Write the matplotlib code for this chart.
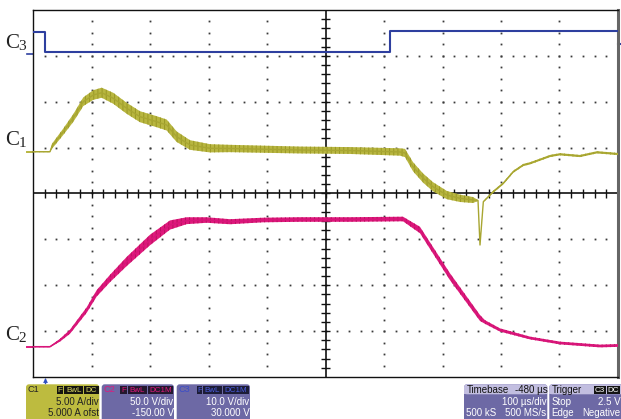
import numpy as np
import matplotlib
matplotlib.use('Agg')
import matplotlib.pyplot as plt
from matplotlib.patches import FancyBboxPatch, Rectangle

# ---------------- data (time in µs after trigger, amplitude in screen divisions) -------------
c3_t = [-20.5, 0, 0, 590, 590, 979.5]
c3_v = [3.53, 3.53, 3.08, 3.08, 3.54, 3.54]

c1_t = [-20.5, 8.5, 12, 31.3, 48.4, 65.5, 82.6, 96.9, 116.8, 139.7, 162.4, 190.9, 208.0,
        225.1, 247.9, 282.1, 316.2, 435.9, 521.4, 606.8, 615.4, 629.1, 646.2, 663.2, 686.7,
        709.4, 731.6, 740.2, 743.6, 749.3, 755.1, 766.3, 783.4, 800.5, 817.6, 829.1, 863.3,
        880.3, 914.5, 943.6, 979.5]
c1_v = [0.911, 0.911, 1.03, 1.347, 1.646, 2.001, 2.147, 2.197, 2.075, 1.857, 1.674, 1.565,
        1.493, 1.238, 1.057, 0.985, 0.981, 0.948, 0.937, 0.905, 0.883, 0.584, 0.338, 0.148,
        -0.033, -0.105, -0.142, -0.153, -1.123, -0.179, -0.105, 0.039, 0.222, 0.475, 0.621,
        0.658, 0.817, 0.855, 0.817, 0.898, 0.861]
c1_ripple = [0.011, 0.011, 0.055, 0.07, 0.085, 0.095, 0.105, 0.11, 0.12, 0.12, 0.12,
             0.12, 0.12, 0.115, 0.105, 0.09, 0.08, 0.075, 0.075, 0.08, 0.09, 0.1,
             0.1, 0.1, 0.09, 0.08, 0.065, 0.011, 0.007, 0.011, 0.017, 0.024, 0.024,
             0.024, 0.024, 0.024, 0.024, 0.024, 0.024, 0.024, 0.024]

c2_t = [-20.5, 8.5, 25.6, 42.7, 71.3, 88.4, 111.1, 139.7, 179.5, 213.7, 242.2, 276.4, 316.2,
        372.6, 435.9, 521.4, 612.0, 641.0, 692.3, 743.6, 752.1, 777.8, 829.1, 880.3, 948.7, 979.5]
c2_v = [-3.34, -3.34, -3.198, -3.013, -2.540, -2.176, -1.853, -1.482, -1.014, -0.687, -0.593,
        -0.578, -0.615, -0.578, -0.567, -0.567, -0.556, -0.796, -1.814, -2.714, -2.801,
        -2.975, -3.150, -3.259, -3.324, -3.313]
c2_ripple = [0.011, 0.011, 0.03, 0.045, 0.06, 0.07, 0.08, 0.1, 0.115, 0.1, 0.075, 0.06, 0.055,
             0.05, 0.05, 0.05, 0.05, 0.07, 0.075, 0.065, 0.04, 0.035, 0.03, 0.03, 0.03, 0.03]

channel_labels = [('C', '3', 48), ('C', '1', 145), ('C', '2', 340)]

ch_panels = [
    dict(name='C1', boxes=['F', 'BwL', 'DC'], l1='5.00 A/div', l2='5.000 A ofst'),
    dict(name='C2', boxes=['F', 'BwL', 'DC1M'], l1='50.0 V/div', l2='-150.00 V'),
    dict(name='C3', boxes=['F', 'BwL', 'DC1M'], l1='10.0 V/div', l2='30.000 V'),
]
timebase = dict(title='Timebase', delay='-480 µs', rate='100 µs/div', samples='500 kS', srate='500 MS/s')
trigger = dict(title='Trigger', boxes=['C3', 'DC'], mode='Stop', level='2.5 V', kind='Edge', slope='Negative')

# ---------------- styling -------------
BLUE = '#2e3f9f'
YEL = '#b8b640'
MAG = '#e0197d'
PURP = '#6d69a5'
plt.rcParams['hatch.linewidth'] = 0.7

fig = plt.figure(figsize=(6.21, 4.19), dpi=100)
fig.patch.set_facecolor('white')
ov = fig.add_axes([0, 0, 1, 1])
ov.set_xlim(0, 621)
ov.set_ylim(419, 0)
ov.axis('off')

ax = fig.add_axes([33 / 621, 42 / 419, 585 / 621, 367 / 419])
T0, T1 = -20.5, 979.5
ax.set_xlim(T0, T1)
ax.set_ylim(-4, 4)
ax.set_xticks([])
ax.set_yticks([])
for s in ['left', 'top', 'bottom']:
    ax.spines[s].set_color('#111')
    ax.spines[s].set_linewidth(1.0)
ax.spines['right'].set_color('#666')
ax.spines['right'].set_linewidth(2.2)

# grid dots
TC = T0 + 500
for k in range(1, 10):
    if k == 5:
        continue
    tk = T0 + k * 100
    ys = np.arange(-3.75, 4.0, 0.25)
    ax.plot(np.full_like(ys, tk), ys, ls='none', marker='s', ms=1.3, mew=0, color='#3a3a3a')
for j in [-3, -2, -1, 1, 2, 3]:
    ts = T0 + np.arange(1, 50) * 20
    ax.plot(ts, np.full_like(ts, j, dtype=float), ls='none', marker='s', ms=1.3, mew=0, color='#3a3a3a')

# centre cross with ticks
ax.axvline(TC, color='#111', lw=1.2, zorder=2)
ax.axhline(0, color='#111', lw=1.2, zorder=2)
ax.vlines(T0 + np.arange(1, 50) * 20, -0.098, 0.098, color='#111', lw=1.0, zorder=2)
ax.hlines(np.arange(-3.8, 3.9, 0.2), TC - 7.7, TC + 7.7, color='#111', lw=1.0, zorder=2)

# traces
ax.plot(c3_t, c3_v, color=BLUE, lw=1.5, zorder=4)

c1_t_a = np.array(c1_t); c1_v_a = np.array(c1_v); c1_r = np.array(c1_ripple)
ax.fill_between(c1_t_a, c1_v_a - c1_r, c1_v_a + c1_r, facecolor=YEL, edgecolor='#9a9826',
                hatch='||||', lw=0, zorder=4)
ax.plot(c1_t_a, c1_v_a, color='#a8a632', lw=1.0, zorder=5)

c2_t_a = np.array(c2_t); c2_v_a = np.array(c2_v); c2_r = np.array(c2_ripple)
ax.fill_between(c2_t_a, c2_v_a - c2_r, c2_v_a + c2_r, facecolor=MAG, edgecolor='#b8105e',
                hatch='||||', lw=0, zorder=4)
ax.plot(c2_t_a, c2_v_a, color='#d8157a', lw=1.1, zorder=5)

# channel reference markers (left) and trigger level marker (right)
ax.plot([T0 - 10.3, T0], [c3_v[2] - 0.04, c3_v[2] - 0.04], color=BLUE, lw=1.2, clip_on=False)
ax.plot([T0 - 10.3, T0], [c1_v[0], c1_v[0]], color=YEL, lw=1.4, clip_on=False)
ax.plot([T0 - 10.3, T0], [c2_v[0], c2_v[0]], color=MAG, lw=1.4, clip_on=False)
ax.plot([T1, T1 + 5], [3.25, 3.25], color=BLUE, lw=1.5, clip_on=False)

# channel labels
for big, sub, yb in channel_labels:
    ov.text(5.5, yb, big, fontsize=15, family='Liberation Serif', color='#222', va='baseline', ha='left')
    ov.text(18.3, yb + 2, sub, fontsize=11, family='Liberation Serif', color='#222', va='baseline', ha='left')

# trigger position marker
ov.plot([45, 45], [378.5, 383], color='#3050c0', lw=1.0)
ov.plot([45], [379.5], marker='^', ms=3.5, color='#3050c0', mew=0)

# ---------------- info panels -------------
FS = 6.6
FAM = 'Liberation Sans'

def panel(x0, w, color, y0=384.3, h=40):
    p = FancyBboxPatch((x0, y0), w, h, boxstyle='round,pad=0,rounding_size=3',
                       fc=color, ec='none')
    ov.add_patch(p)

def tag(x0, x1, s, fc, tc):
    ov.add_patch(Rectangle((x0, 385.7), x1 - x0, 8.3, fc=fc, ec='none'))
    ov.text((x0 + x1) / 2, 390, s, fontsize=5.8, family=FAM, color=tc, ha='center', va='center')

pan_x = [(26, 99.3), (101.7, 174), (176.7, 250)]
name_col = ['#222', MAG, '#3a4cc8']
tag_fc = ['#151510', '#24182e', '#1c1c36']
tag_tc = ['#d8d660', MAG, '#4a5ce0']
val_col = ['#222', 'white', 'white']
tag_x = [[(56.7, 63.3), (64.3, 83.3), (84.0, 98.8)],
         [(120.0, 126.7), (127.7, 146.7), (147.7, 173.3)],
         [(196.7, 202.0), (203.0, 221.7), (222.7, 249.3)]]
pan_fc = ['#bdbb3f', PURP, PURP]
for i, pdata in enumerate(ch_panels):
    x0, x1 = pan_x[i]
    panel(x0, x1 - x0, pan_fc[i])
    ov.text(x0 + 2, 389.5, pdata['name'], fontsize=FS, family=FAM, color=name_col[i], ha='left', va='center')
    for (a, b), s in zip(tag_x[i], pdata['boxes']):
        tag(a, b, s, tag_fc[i], tag_tc[i])
    ov.text(x1 - 1, 401.8, pdata['l1'], fontsize=FS + 0.4, family=FAM, color=val_col[i], ha='right', va='center')
    ov.text(x1 - 0.3, 413.3, pdata['l2'], fontsize=FS + 0.4, family=FAM, color=val_col[i], ha='right', va='center')

# timebase
panel(464, 83.3, PURP)
ov.add_patch(FancyBboxPatch((464, 384.3), 83.3, 10, boxstyle='round,pad=0,rounding_size=3', fc='#c2bee0', ec='none'))
ov.add_patch(Rectangle((464, 390), 83.3, 4.3, fc='#c2bee0', ec='none'))
ov.text(466.5, 389.5, timebase['title'], fontsize=FS + 0.4, family=FAM, color='#111', ha='left', va='center')
ov.text(547.3, 389.5, timebase['delay'], fontsize=FS + 0.4, family=FAM, color='#111', ha='right', va='center')
ov.text(546.5, 401.5, timebase['rate'], fontsize=FS + 0.4, family=FAM, color='white', ha='right', va='center')
ov.text(466.5, 412.8, timebase['samples'], fontsize=FS + 0.4, family=FAM, color='white', ha='left', va='center')
ov.text(546.5, 412.8, timebase['srate'], fontsize=FS + 0.4, family=FAM, color='white', ha='right', va='center')

# trigger
panel(549.3, 80, PURP)
ov.add_patch(FancyBboxPatch((549.3, 384.3), 80, 10, boxstyle='round,pad=0,rounding_size=3', fc='#c2bee0', ec='none'))
ov.add_patch(Rectangle((549.3, 390), 80, 4.3, fc='#c2bee0', ec='none'))
ov.text(551.7, 389.5, trigger['title'], fontsize=FS + 0.4, family=FAM, color='#111', ha='left', va='center')
for (a, b), s in zip([(594, 606), (606.5, 620)], trigger['boxes']):
    tag(a, b, s, '#141414', 'white')
ov.text(551.7, 401.5, trigger['mode'], fontsize=FS + 0.4, family=FAM, color='white', ha='left', va='center')
ov.text(620.5, 401.5, trigger['level'], fontsize=FS + 0.4, family=FAM, color='white', ha='right', va='center')
ov.text(551.7, 412.8, trigger['kind'], fontsize=FS + 0.4, family=FAM, color='white', ha='left', va='center')
ov.text(620.5, 412.8, trigger['slope'], fontsize=FS + 0.4, family=FAM, color='white', ha='right', va='center')

fig.savefig('out.png', dpi=100, facecolor='white')
